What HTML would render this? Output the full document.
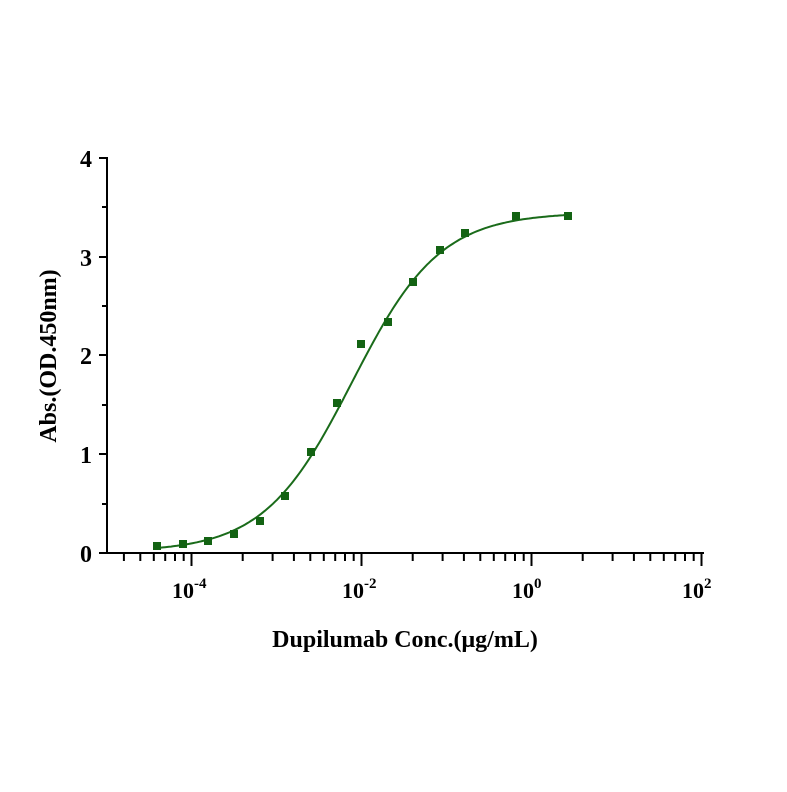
<!DOCTYPE html>
<html><head><meta charset="utf-8"><style>
html,body{margin:0;padding:0;background:#fff}
svg text{font-family:"Liberation Serif",serif;font-weight:bold;fill:#000}
</style></head><body>
<svg id="s" width="787" height="787" viewBox="0 0 787 787" xmlns="http://www.w3.org/2000/svg">
<g stroke="#000" stroke-width="2" fill="none">
<line x1="107" y1="157" x2="107" y2="554"/>
<line x1="106" y1="553" x2="704" y2="553"/>
<line x1="99" y1="158" x2="107" y2="158"/>
<line x1="99" y1="257" x2="107" y2="257"/>
<line x1="99" y1="355" x2="107" y2="355"/>
<line x1="99" y1="454" x2="107" y2="454"/>
<line x1="99" y1="553" x2="107" y2="553"/>
<line x1="102" y1="207" x2="107" y2="207"/>
<line x1="102" y1="306" x2="107" y2="306"/>
<line x1="102" y1="405" x2="107" y2="405"/>
<line x1="102" y1="504" x2="107" y2="504"/>
</g>
<g id="ticks" stroke="#000" stroke-width="2"></g>
<g font-size="24">
<text x="92" y="167" text-anchor="end">4</text>
<text x="92" y="266" text-anchor="end">3</text>
<text x="92" y="364" text-anchor="end">2</text>
<text x="92" y="463" text-anchor="end">1</text>
<text x="92" y="562" text-anchor="end">0</text>
</g>
<g font-size="22">
<text x="172" y="598">10<tspan font-size="15" dy="-10">-4</tspan></text>
<text x="342" y="598">10<tspan font-size="15" dy="-10">-2</tspan></text>
<text x="512" y="598">10<tspan font-size="15" dy="-10">0</tspan></text>
<text x="682" y="598">10<tspan font-size="15" dy="-10">2</tspan></text>
</g>
<text x="405" y="647" font-size="24" text-anchor="middle">Dupilumab Conc.(μg/mL)</text>
<text transform="translate(56,356) rotate(-90)" font-size="24" text-anchor="middle">Abs.(OD.450nm)</text>
<path id="curve" fill="none" stroke="#1a6b1a" stroke-width="2"/>
<g id="pts" fill="#136313"></g>
</svg>
<script>
var t=document.getElementById('ticks'),h='';
function tk(x,len){h+='<line x1="'+x.toFixed(1)+'" y1="553" x2="'+x.toFixed(1)+'" y2="'+(553+len)+'"/>';}
[191.5,361.5,531.5,701.5].forEach(function(x){tk(x,13);});
[21.5,191.5,361.5,531.5].forEach(function(b){for(var k=2;k<=9;k++){var x=b+170*Math.log10(k);if(x>108&&x<703)tk(x,8);}});
t.innerHTML=h;
function Y(v){return 553-v*98.7;}
var d='';for(var x=157;x<=568;x+=2){var v=0.01+3.44/(1+Math.exp(-(x-352)/44));d+=(x==157?'M':'L')+x+' '+Y(v).toFixed(1);}
document.getElementById('curve').setAttribute('d',d);
var P=[[157,546],[183,544],[208,541],[234,534],[260,521],[285,496],[311,452],[337,403],[361,344],[388,322],[413,282],[440,250],[465,233],[516,216],[568,216]],ph='';
P.forEach(function(p){ph+='<rect x="'+(p[0]-4)+'" y="'+(p[1]-4)+'" width="8" height="8"/>';});
document.getElementById('pts').innerHTML=ph;
</script>
</body></html>
